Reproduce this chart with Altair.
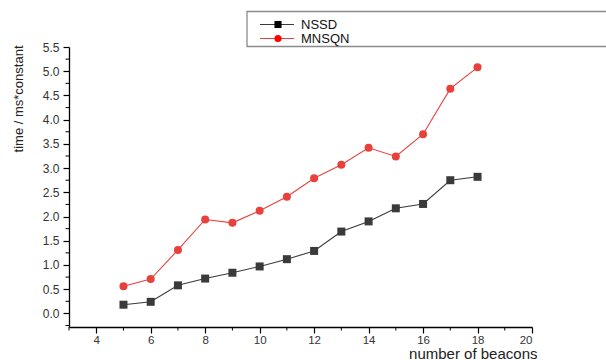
import altair as alt
import pandas as pd

# Measured times for each beacon count
beacons = [5, 6, 7, 8, 9, 10, 11, 12, 13, 14, 15, 16, 17, 18]
nssd = [0.18, 0.24, 0.58, 0.72, 0.84, 0.97, 1.12, 1.29, 1.69, 1.90, 2.17, 2.26, 2.75, 2.82]
mnsqn = [0.56, 0.71, 1.31, 1.94, 1.87, 2.12, 2.41, 2.79, 3.07, 3.42, 3.24, 3.70, 4.64, 5.08]

series_names = ["NSSD", "MNSQN"]
marker_colors = ["#000000", "#ff0000"]
line_colors = ["#3a3a3a", "#e8413c"]
marker_shapes = ["square", "circle"]

x_ticks = [4, 6, 8, 10, 12, 14, 16, 18, 20]
x_minor = [3, 5, 7, 9, 11, 13, 15, 17, 19]
y_ticks = [0.0, 0.5, 1.0, 1.5, 2.0, 2.5, 3.0, 3.5, 4.0, 4.5, 5.0, 5.5]
y_minor = [-0.25, 0.25, 0.75, 1.25, 1.75, 2.25, 2.75, 3.25, 3.75, 4.25, 4.75, 5.25]

FONT = "Liberation Sans"
W, H = 463, 280

rows = []
for name, vals in zip(series_names, [nssd, mnsqn]):
    for b, v in zip(beacons, vals):
        rows.append({"beacons": b, "time": v, "series": name})
df = pd.DataFrame(rows)

x_scale = alt.Scale(domain=[3, 20], nice=False, zero=False)
y_scale = alt.Scale(domain=[-0.28, 5.5], nice=False, zero=False)

x_axis = alt.Axis(
    values=x_ticks, format="d", grid=False, tickSize=6, labelPadding=1,
    labelFontSize=11.5, labelColor="#333333", labelFont=FONT, labelOverlap=False,
    domainColor="#000000", tickColor="#000000", domainWidth=1.3, tickWidth=1.2,
    title="number of beacons", titleFont=FONT, titleFontSize=15,
    titleFontWeight="normal", titleColor="#222222",
    titleAnchor="end", titleAlign="right", titleBaseline="alphabetic",
    titleX=468, titleY=31,
)
y_axis = alt.Axis(
    values=y_ticks, format=".1f", grid=False, tickSize=6, labelPadding=4,
    labelFontSize=12, labelColor="#333333", labelFont=FONT, labelOverlap=False,
    domainColor="#000000", tickColor="#000000", domainWidth=1.3, tickWidth=1.2,
    title="time / ms*constant", titleFont=FONT, titleFontSize=13,
    titleFontWeight="normal", titleColor="#222222",
    titleAnchor="end", titleAlign="right", titleBaseline="middle",
    titleAngle=270, titleX=-51, titleY=-2,
)

X = alt.X("beacons:Q", scale=x_scale, axis=x_axis)
Y = alt.Y("time:Q", scale=y_scale, axis=y_axis)

color_line = alt.Scale(domain=series_names, range=line_colors)
color_mark = alt.Scale(domain=series_names, range=marker_colors)
shape_scale = alt.Scale(domain=series_names, range=marker_shapes)

base = alt.Chart(df)

lines = base.mark_line(strokeWidth=1.1).encode(
    x=X, y=Y,
    color=alt.Color("series:N", scale=color_line, legend=None),
    detail="series:N",
)

points = base.mark_point(filled=True, opacity=1, size=64).encode(
    x=X, y=Y,
    color=alt.Color("series:N", scale=color_mark, legend=None),
    shape=alt.Shape("series:N", scale=shape_scale, legend=None),
)

# Minor ticks on both axes
y_minor_ticks = alt.Chart(pd.DataFrame({"time": y_minor})).mark_rule(
    color="#000000", strokeWidth=1
).encode(y=Y, x=alt.value(-3.5), x2=alt.value(0))

x_minor_ticks = alt.Chart(pd.DataFrame({"beacons": x_minor})).mark_rule(
    color="#000000", strokeWidth=1
).encode(x=X, y=alt.value(H), y2=alt.value(H + 3.5))

# Legend box above the plot
legend_box = alt.Chart(pd.DataFrame({"k": [0]})).mark_rect(
    fill="#ffffff", stroke="#8a8a8a", strokeWidth=1.3
).encode(x=alt.value(178), x2=alt.value(545), y=alt.value(-35.5), y2=alt.value(-0.5))

legend_layers = [legend_box]
legend_rows_y = [-22.5, -8.5]
for name, lc, mc, shp, ly in zip(series_names, line_colors, marker_colors,
                                 marker_shapes, legend_rows_y):
    ldf = pd.DataFrame({"series": [name]})
    legend_layers.append(
        alt.Chart(ldf).mark_rule(color=lc, strokeWidth=1.1).encode(
            x=alt.value(191), x2=alt.value(225), y=alt.value(ly)
        )
    )
    legend_layers.append(
        alt.Chart(ldf).mark_point(filled=True, opacity=1, size=50, color=mc, shape=shp).encode(
            x=alt.value(209), y=alt.value(ly)
        )
    )
    legend_layers.append(
        alt.Chart(ldf).mark_text(
            align="left", baseline="middle", font=FONT, fontSize=13, color="#111111"
        ).encode(x=alt.value(232), y=alt.value(ly), text="series:N")
    )

chart = alt.layer(
    lines, points, x_minor_ticks, y_minor_ticks, *legend_layers
).properties(
    width=W, height=H,
    padding={"left": 69, "top": 47, "right": 74, "bottom": 33},
    autosize=alt.AutoSizeParams(type="none"),
    background="#ffffff",
).configure_view(stroke=None)

chart.save("out.html", embed_options={"renderer": "svg", "actions": False})
